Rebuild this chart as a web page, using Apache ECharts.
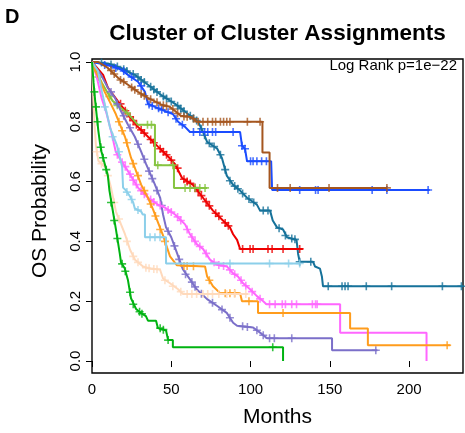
<!DOCTYPE html>
<html>
<head>
<meta charset="utf-8">
<script src="https://cdn.jsdelivr.net/npm/echarts@6/dist/echarts.min.js"></script>
<style>
  html, body { margin: 0; padding: 0; background: #fff; }
  #chart { width: 465px; height: 433px; }
</style>
</head>
<body>
<div id="chart"></div>
<script>
// Kaplan-Meier curves: [months, survival]
const tealPath = [[0,1],[10,0.995],[13,0.99],[18.3,0.98],[24,0.964],[27,0.957],[35.3,0.924],[43.5,0.89],[52.4,0.86],[60.6,0.826],[67,0.8],[70,0.766],[72.6,0.733],[76.3,0.72],[79,0.71],[82,0.678],[85,0.62],[89,0.589],[93.4,0.57],[97.8,0.546],[104,0.523],[106,0.503],[112.3,0.503],[114,0.47],[116.7,0.447],[120.5,0.44],[123,0.414],[129,0.405],[130,0.358],[131,0.332],[139.4,0.332],[140.7,0.316],[143.8,0.309],[145,0.283],[145.7,0.25],[234,0.25]];
const tealCens = [[6,0.998],[12,0.992],[16,0.985],[20,0.976],[22,0.97],[26,0.96],[29,0.95],[31,0.94],[33,0.933],[37,0.917],[39,0.908],[41,0.9],[45,0.885],[47,0.878],[50,0.868],[54,0.854],[56,0.844],[58,0.835],[62,0.82],[64,0.812],[66,0.804],[69,0.777],[71,0.755],[74,0.728],[77,0.717],[81,0.69],[84,0.64],[87,0.603],[90,0.585],[92,0.576],[95,0.56],[99,0.542],[102,0.53],[108,0.503],[111,0.503],[118,0.444],[122,0.42],[126,0.41],[128,0.407],[131,0.332],[138,0.332],[149,0.25],[157.7,0.25],[159.6,0.25],[161.5,0.25],[173,0.25],[189,0.25],[221,0.25],[233,0.25]];

const bluePath = [[0,1],[5,0.995],[13,0.985],[18.3,0.975],[22.7,0.957],[29,0.934],[33.4,0.9],[35.3,0.86],[39.7,0.85],[46,0.836],[51,0.826],[54.3,0.8],[58.7,0.783],[61.8,0.766],[93.4,0.766],[94.6,0.72],[96.5,0.71],[97.8,0.668],[113,0.668],[113.6,0.572],[213,0.572]];
const blueCens = [[8,0.99],[15,0.98],[20,0.97],[25,0.95],[31,0.92],[36,0.858],[38,0.853],[42,0.845],[44,0.84],[48,0.832],[53,0.81],[57,0.79],[64,0.766],[68,0.766],[71,0.766],[73,0.766],[76,0.766],[78,0.766],[89,0.766],[94.6,0.72],[96.5,0.71],[100,0.668],[101.6,0.668],[104,0.668],[107,0.668],[110,0.668],[131,0.572],[141,0.572],[142.6,0.572],[176.7,0.572],[186,0.572],[212,0.572]];

const brownPath = [[0,1],[4,1],[10,0.98],[16.4,0.947],[22.7,0.924],[29,0.9],[35.3,0.88],[39.7,0.868],[43.5,0.858],[49,0.85],[52.4,0.836],[56,0.82],[62.5,0.816],[66,0.8],[107.5,0.8],[107.5,0.697],[112,0.697],[112,0.579],[186,0.579]];
const brownCens = [[12,0.972],[14,0.96],[18,0.94],[20,0.934],[25,0.915],[27,0.907],[31,0.893],[33,0.887],[37,0.875],[41,0.865],[45,0.855],[47,0.852],[51,0.843],[54,0.828],[58,0.818],[60,0.817],[64,0.81],[67,0.8],[70,0.8],[73,0.8],[76,0.8],[78,0.8],[81,0.8],[83,0.8],[85,0.8],[87,0.8],[98,0.8],[106,0.8],[117,0.579],[125,0.579],[149.5,0.579],[186,0.579]];

const redPath = [[0,1],[7,0.957],[10,0.914],[16.4,0.868],[22.7,0.826],[29,0.783],[35.3,0.75],[41.6,0.717],[48,0.684],[52.4,0.658],[56.8,0.612],[63.7,0.589],[70,0.546],[76.3,0.503],[82.6,0.47],[87,0.447],[89,0.424],[91.5,0.405],[93.4,0.375],[133,0.375]];
const redCens = [[18,0.86],[21,0.837],[24,0.817],[26,0.804],[28,0.79],[31,0.773],[33,0.762],[37,0.741],[39,0.73],[43,0.71],[45,0.7],[47,0.69],[50,0.672],[54,0.645],[58,0.608],[60,0.6],[62,0.594],[65,0.58],[67,0.567],[69,0.553],[72,0.533],[74,0.519],[78,0.494],[80,0.484],[84,0.462],[86,0.452],[95,0.375],[99.7,0.375],[101.6,0.375],[111,0.375],[113.6,0.375],[120.5,0.375],[131,0.375]];

const olivePath = [[0,1],[2.5,0.97],[6.3,0.93],[9.5,0.9],[13,0.87],[19.6,0.84],[24,0.82],[29,0.79],[39.7,0.79],[39.7,0.655],[51.7,0.655],[51.7,0.579],[72.6,0.579]];
const oliveCens = [[4,0.95],[11,0.885],[16,0.855],[22,0.83],[35,0.79],[37.5,0.79],[41.5,0.655],[51,0.655],[58.7,0.579],[61.8,0.579],[65,0.579],[68,0.579],[71.3,0.579]];

const purplePath = [[0,1],[5.7,0.957],[10,0.914],[14.5,0.88],[18.3,0.835],[22.7,0.79],[27,0.75],[31,0.7],[34,0.66],[39.7,0.59],[43,0.546],[44.8,0.49],[46.7,0.447],[50,0.414],[53,0.37],[56,0.326],[57.4,0.306],[61.8,0.273],[66,0.24],[72.6,0.207],[79,0.184],[85,0.161],[89,0.128],[91.5,0.118],[101.6,0.112],[106,0.095],[110.4,0.076],[151.4,0.076],[151.4,0.036],[180,0.036]];
const purpleCens = [[12,0.9],[16,0.86],[20,0.82],[24,0.78],[29,0.725],[33,0.675],[36,0.635],[38,0.61],[41,0.57],[44,0.52],[48,0.434],[52,0.385],[55,0.34],[59,0.29],[63,0.264],[65,0.248],[69,0.225],[76,0.195],[82,0.172],[87,0.145],[95,0.116],[98,0.114],[104,0.103],[108,0.086],[112,0.076],[115,0.076],[126,0.076],[179,0.036]];

const pinkPath = [[0,1],[3,0.95],[6,0.88],[8.8,0.835],[12,0.77],[15,0.7],[18.3,0.67],[22.7,0.635],[29,0.58],[35.3,0.546],[41.6,0.523],[46,0.513],[52.4,0.49],[58.7,0.457],[61.8,0.424],[66.2,0.39],[70,0.375],[74.4,0.339],[78.9,0.322],[85.2,0.316],[89,0.293],[92,0.283],[95.3,0.26],[99.7,0.24],[104,0.217],[108,0.2],[110,0.19],[156.5,0.19],[156.5,0.095],[211,0.095],[211,0]];
const pinkCens = [[16,0.69],[19,0.665],[21,0.65],[24,0.625],[26,0.605],[28,0.59],[31,0.57],[33,0.558],[37,0.54],[39,0.532],[43,0.52],[48,0.505],[50,0.498],[54,0.482],[56,0.47],[60,0.44],[63,0.415],[65,0.4],[68,0.383],[72,0.36],[77,0.33],[80,0.321],[83,0.318],[87,0.305],[90,0.29],[94,0.27],[97,0.252],[101,0.232],[106,0.208],[112,0.19],[115.5,0.19],[120,0.19],[122,0.19],[126,0.19],[129,0.19],[139,0.19],[141,0.19],[142,0.19]];

const orangePath = [[0,1],[2,0.97],[5,0.94],[8,0.9],[11.4,0.865],[15,0.826],[20.8,0.75],[24.6,0.68],[27.8,0.635],[31,0.59],[35.3,0.546],[38.5,0.507],[41.6,0.464],[44.8,0.42],[47.3,0.38],[49.2,0.35],[53.6,0.32],[71.3,0.316],[72.6,0.283],[76.3,0.25],[80.8,0.227],[93.4,0.227],[94.6,0.2],[104.7,0.2],[104.7,0.161],[162.8,0.161],[162.8,0.109],[174,0.109],[174,0.053],[226,0.053]];
const orangeCens = [[17,0.8],[19,0.77],[22,0.73],[26,0.66],[29,0.62],[33,0.57],[37,0.525],[40,0.485],[43,0.44],[46,0.4],[58,0.318],[60,0.318],[64,0.317],[74,0.27],[84,0.227],[87,0.227],[90,0.227],[99,0.2],[120.5,0.161],[224,0.053]];

const skyPath = [[0,1],[3.8,0.97],[6.3,0.9],[11.4,0.78],[15.8,0.72],[19,0.65],[19.6,0.58],[21.5,0.57],[24,0.55],[26,0.53],[27,0.51],[31,0.5],[32,0.49],[33.4,0.49],[33.4,0.414],[46.7,0.414],[46.7,0.326],[131,0.326]];
const skyCens = [[8,0.85],[13,0.75],[17,0.7],[22,0.565],[25,0.54],[29,0.505],[36.6,0.414],[39.7,0.414],[42.9,0.414],[87,0.326],[112,0.326],[124,0.326],[131,0.326]];

const peachPath = [[0,1],[0.7,0.9],[1.5,0.8],[2.5,0.72],[4,0.67],[8.8,0.645],[12,0.58],[15.1,0.5],[18.3,0.457],[20.8,0.424],[24,0.372],[27.1,0.339],[32.2,0.316],[37.2,0.309],[42.9,0.306],[44.8,0.276],[49.2,0.26],[54.3,0.24],[57.4,0.224],[98.4,0.224]];
const peachCens = [[3,0.7],[6,0.66],[10,0.62],[14,0.53],[17,0.475],[22,0.4],[26,0.35],[29,0.33],[34,0.312],[36,0.31],[39,0.308],[41,0.307],[46,0.27],[51,0.25],[56,0.232],[60,0.224],[63,0.224],[66,0.224],[70,0.224],[73,0.224],[76,0.224],[80,0.224],[85,0.224],[90,0.224],[97,0.224]];

const greenPath = [[0,1],[1,0.93],[2,0.87],[3,0.82],[4,0.77],[5,0.73],[6,0.7],[8,0.66],[10,0.62],[11,0.57],[13.2,0.5],[15.1,0.44],[17.5,0.36],[18.3,0.33],[20.6,0.31],[22.7,0.27],[24.6,0.21],[27.8,0.174],[31,0.16],[34,0.15],[35.3,0.135],[40.4,0.135],[41.6,0.11],[46.7,0.102],[48,0.07],[51,0.07],[51,0.046],[120.5,0.046],[120.5,0]];
const greenCens = [[1.5,0.9],[2.5,0.85],[3.5,0.8],[5.5,0.715],[7,0.68],[9,0.64],[12,0.53],[14,0.47],[16,0.41],[19,0.325],[21,0.3],[24,0.23],[26,0.19],[30,0.165],[31.5,0.158],[43,0.11],[45,0.105],[48,0.07],[114,0.046]];

const xTicks = [0, 50, 100, 150, 200];
const yTicks = [0, 0.2, 0.4, 0.6, 0.8, 1.0];

const curves = [
    { path: tealPath, cens: tealCens, color: '#16729a' },
    { path: bluePath, cens: blueCens, color: '#1a4cff' },
    { path: brownPath, cens: brownCens, color: '#a5561f' },
    { path: redPath, cens: redCens, color: '#ee0000' },
    { path: olivePath, cens: oliveCens, color: '#86c440' },
    { path: purplePath, cens: purpleCens, color: '#7b6fc9' },
    { path: pinkPath, cens: pinkCens, color: '#ff66ff' },
    { path: orangePath, cens: orangeCens, color: '#ff9c1c' },
    { path: skyPath, cens: skyCens, color: '#8ccfea' },
    { path: peachPath, cens: peachCens, color: '#ffd9bb' },
    { path: greenPath, cens: greenCens, color: '#00b311' }
];

// filled "+" used for censoring marks
const plus = 'path://M4,0 H6 V4 H10 V6 H6 V10 H4 V6 H0 V4 H4 Z';
const font = '"Liberation Sans", Arial, Helvetica, sans-serif';

const chart = echarts.init(document.getElementById('chart'), null, { renderer: 'canvas' });

const series = [];
curves.forEach((c, i) => {
    series.push({
        type: 'line',
        data: c.path,
        showSymbol: false,
        silent: true,
        z: 2 + i,
        lineStyle: { color: c.color, width: 2 }
    });
    series.push({
        type: 'scatter',
        data: c.cens,
        symbol: plus,
        symbolSize: 8,
        silent: true,
        z: 2 + i,
        itemStyle: { color: c.color }
    });
});

chart.setOption({
    animation: false,
    textStyle: { fontFamily: font },
    grid: {
        left: 92, right: 2, top: 59, bottom: 55,
        show: true, borderColor: '#000', borderWidth: 1.4, backgroundColor: '#fff'
    },
    xAxis: {
        type: 'value',
        min: 0,
        max: 234,
        axisLine: { show: false },
        splitLine: { show: false },
        axisTick: { customValues: xTicks, length: 6, lineStyle: { color: '#000', width: 1 } },
        axisLabel: { customValues: xTicks, color: '#000', fontSize: 15, margin: 9, fontFamily: font },
        name: 'Months',
        nameLocation: 'middle',
        nameGap: 34,
        nameTextStyle: { fontSize: 21, color: '#000', fontFamily: font }
    },
    yAxis: {
        type: 'value',
        min: -0.04,
        max: 1.01,
        axisLine: { show: false },
        splitLine: { show: false },
        axisTick: { customValues: yTicks, length: 6, lineStyle: { color: '#000', width: 1 } },
        axisLabel: {
            customValues: yTicks, color: '#000', fontSize: 15, margin: 9, rotate: 90,
            fontFamily: font, formatter: v => v.toFixed(1)
        }
    },
    graphic: [
        { type: 'text', left: 5, top: 7, style: { text: 'D', font: 'bold 20px ' + font, fill: '#000' } },
        { type: 'text', x: 277.5, y: 34, style: { text: 'Cluster of Cluster Assignments', font: 'bold 22.5px ' + font, fill: '#000', textAlign: 'center', textVerticalAlign: 'middle' } },
        { type: 'text', x: 457, y: 66, z: 100, style: { text: 'Log Rank p=1e\u221222', font: '15px ' + font, fill: '#000', textAlign: 'right', textVerticalAlign: 'middle' } },
        { type: 'text', x: 40, y: 211, rotation: Math.PI / 2, style: { text: 'OS Probability', font: '21px ' + font, fill: '#000', textAlign: 'center', textVerticalAlign: 'middle' } }
    ],
    series: series
});
</script>
</body>
</html>
